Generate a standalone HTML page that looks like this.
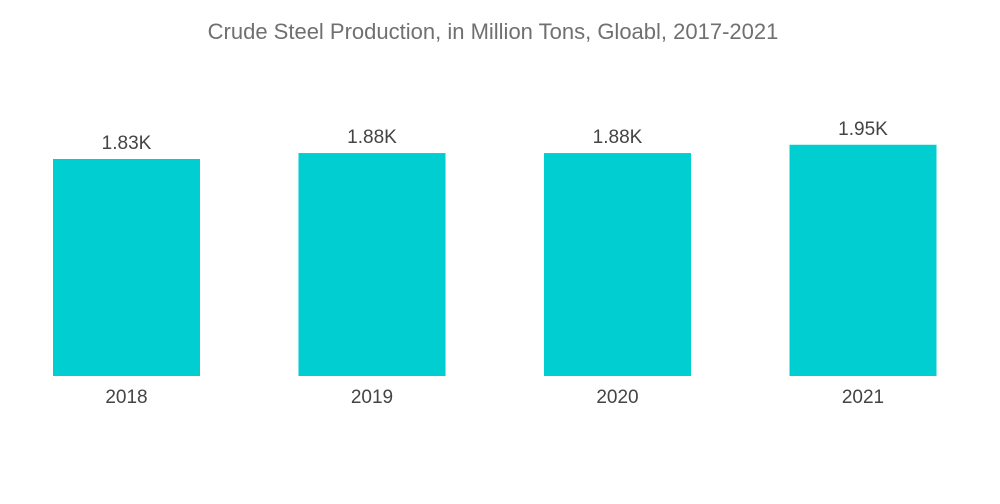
<!DOCTYPE html>
<html><head><meta charset="utf-8"><style>
html,body{margin:0;padding:0;background:#fff;width:1000px;height:504px;overflow:hidden}
</style></head><body>
<svg width="1000" height="504" xmlns="http://www.w3.org/2000/svg">
<text x="493" y="39" text-anchor="middle" font-family="Liberation Sans, sans-serif" font-size="22" fill="#707070">Crude Steel Production, in Million Tons, Gloabl, 2017-2021</text>
<g id="bars"></g>
</svg>
<script>
const categories = ["2018","2019","2020","2021"];
const values = [1830,1880,1880,1950];
const valueLabels = ["1.83K","1.88K","1.88K","1.95K"];
const svg = document.querySelector('svg');
const g = document.getElementById('bars');
const ns = 'http://www.w3.org/2000/svg';
const baseY = 376, pxPer = 217/1830;
const y = v => baseY - v*pxPer;
const x0 = 53, step = 245.5, bw = 147;
categories.forEach((c,i)=>{
  const x = x0 + i*step;
  const r = document.createElementNS(ns,'rect');
  r.setAttribute('x',x); r.setAttribute('y',y(values[i]));
  r.setAttribute('width',bw); r.setAttribute('height',baseY-y(values[i]));
  r.setAttribute('fill','#00ced1');
  
  
  g.appendChild(r);
  const t = document.createElementNS(ns,'text');
  t.setAttribute('x',x+bw/2); t.setAttribute('y',y(values[i])-10);
  t.setAttribute('text-anchor','middle'); t.setAttribute('font-family','Liberation Sans, sans-serif');
  t.setAttribute('font-size','19'); t.setAttribute('fill','#444');
  t.textContent = valueLabels[i];
  
  
  g.appendChild(t);
  const l = document.createElementNS(ns,'text');
  l.setAttribute('x',x+bw/2); l.setAttribute('y',403);
  l.setAttribute('text-anchor','middle'); l.setAttribute('font-family','Liberation Sans, sans-serif');
  l.setAttribute('font-size','19'); l.setAttribute('fill','#444');
  l.textContent = c;
  
  
  g.appendChild(l);
});
</script>
</body></html>
